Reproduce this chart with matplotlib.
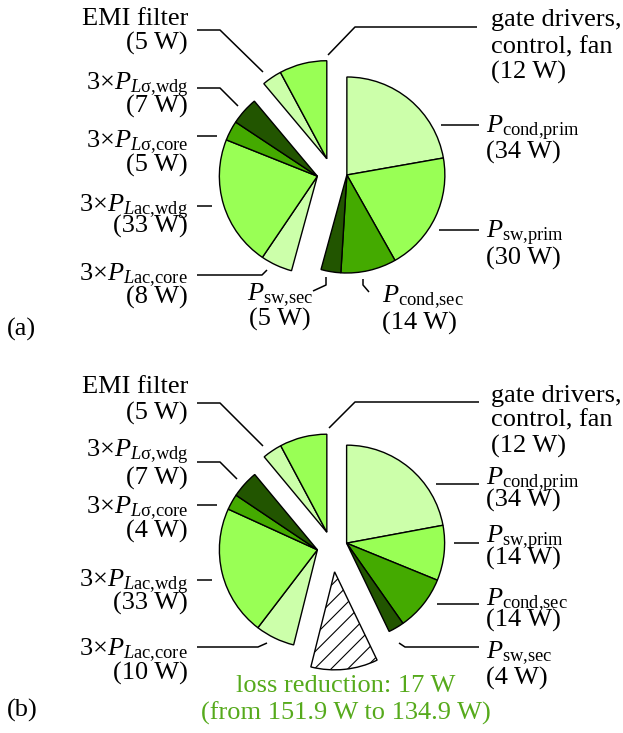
import numpy as np
import matplotlib
matplotlib.use('Agg')
import matplotlib.pyplot as plt

plt.rcParams['font.family'] = 'Liberation Serif'
plt.rcParams['mathtext.fontset'] = 'custom'
plt.rcParams['mathtext.rm'] = 'Liberation Serif'
plt.rcParams['mathtext.it'] = 'Liberation Serif:italic'
plt.rcParams['hatch.linewidth'] = 0.8

W, H = 623, 733  # canvas in px, axes use px units (y down)
R = 98

# losses in W, clockwise from 12 o'clock
loss_a = [34, 30, 14, 5, 8, 33, 5, 7, 5, 12]
group_a = ['semi'] * 4 + ['mag'] * 4 + ['other'] * 2

loss_b = [34, 14, 14, 4, 17, 10, 33, 4, 7, 5, 12]
group_b = ['semi'] * 4 + ['red'] + ['mag'] * 4 + ['other'] * 2

total_before, total_after = 151.9, 134.9

light, bright, mid, dark = '#CCFFAA', '#99FF55', '#44AA00', '#225500'
col_a = [light, bright, mid, dark, light, bright, mid, dark, light, bright]
col_b = [light, bright, mid, dark, 'white', light, bright, mid, dark, light, bright]

shift = {'semi': 0.153, 'mag': 0.153, 'other': 0.155, 'red': 0.26}

names_semi = [r'$P_{\mathrm{cond{,}prim}}$', r'$P_{\mathrm{sw{,}prim}}$',
              r'$P_{\mathrm{cond{,}sec}}$', r'$P_{\mathrm{sw{,}sec}}$']
names_mag = [r'3×$P_{L\mathrm{ac{,}core}}$', r'3×$P_{L\mathrm{ac{,}wdg}}$',
             r'3×$P_{L\mathrm{\sigma{,}core}}$', r'3×$P_{L\mathrm{\sigma{,}wdg}}$']

fig = plt.figure(figsize=(6.23, 7.33), dpi=100)
ax = fig.add_axes([0, 0, 1, 1])


def draw_pie(values, groups, colors, center):
    wedges, _ = ax.pie(values, colors=colors, radius=R, center=center,
                       startangle=-90, counterclock=True, frame=True,
                       wedgeprops=dict(edgecolor='black', linewidth=1.0))
    cum = np.cumsum([0] + values) / sum(values) * 360
    for g in dict.fromkeys(groups):
        idx = [i for i, x in enumerate(groups) if x == g]
        th = np.deg2rad(-90 + (cum[idx[0]] + cum[idx[-1] + 1]) / 2)
        off = shift[g] * R
        for i in idx:
            wedges[i].set_center((center[0] + off * np.cos(th),
                                  center[1] + off * np.sin(th)))
    return wedges


draw_pie(loss_a, group_a, col_a, (332, 173))
wb = draw_pie(loss_b, group_b, col_b, (332, 546.5))
wb[4].set_hatch('//')


def txt(x, y, s, ha='left', color='black'):
    ax.text(x, y, s, ha=ha, va='baseline', fontsize=19, color=color)


def lead(pts):
    xs, ys = zip(*pts)
    ax.plot(xs, ys, color='black', lw=1.1, solid_capstyle='butt')


# ---- (a) ----
txt(188, 25, 'EMI filter', 'right'); txt(188, 50, f'({loss_a[8]} W)', 'right')
txt(188, 90, names_mag[3], 'right'); txt(188, 113, f'({loss_a[7]} W)', 'right')
txt(188, 147, names_mag[2], 'right'); txt(188, 172, f'({loss_a[6]} W)', 'right')
txt(188, 212, names_mag[1], 'right'); txt(188, 233, f'({loss_a[5]} W)', 'right')
txt(188, 280, names_mag[0], 'right'); txt(188, 304, f'({loss_a[4]} W)', 'right')
txt(491, 26, 'gate drivers,'); txt(491, 53, 'control, fan'); txt(491, 79, f'({loss_a[9]} W)')
txt(486, 133, names_semi[0]); txt(486, 159, f'({loss_a[0]} W)')
txt(486, 238, names_semi[1]); txt(486, 265, f'({loss_a[1]} W)')
txt(382, 302, names_semi[2]); txt(382, 330, f'({loss_a[2]} W)')
txt(280, 300, names_semi[3], 'center'); txt(280, 326, f'({loss_a[3]} W)', 'center')
txt(7, 336, '(a)')

lead([(197, 30), (220, 30), (263, 72)])
lead([(477, 27), (355, 27), (328, 55)])
lead([(441, 125), (479, 125)])
lead([(439, 230), (479, 230)])
lead([(363, 279), (363, 285), (369, 292)])
lead([(326, 277), (326, 285), (313, 291)])
lead([(197, 275), (262, 275), (267, 270)])
lead([(197, 206), (212, 206)])
lead([(197, 136), (217, 136)])
lead([(197, 88), (220, 88), (238, 106)])

# ---- (b) ----
txt(188, 393, 'EMI filter', 'right'); txt(188, 420, f'({loss_b[9]} W)', 'right')
txt(188, 457, names_mag[3], 'right'); txt(188, 485, f'({loss_b[8]} W)', 'right')
txt(188, 513, names_mag[2], 'right'); txt(188, 538, f'({loss_b[7]} W)', 'right')
txt(188, 587, names_mag[1], 'right'); txt(188, 610, f'({loss_b[6]} W)', 'right')
txt(188, 655, names_mag[0], 'right'); txt(188, 680, f'({loss_b[5]} W)', 'right')
txt(491, 402, 'gate drivers,'); txt(491, 426, 'control, fan'); txt(491, 453, f'({loss_b[10]} W)')
txt(486, 485, names_semi[0]); txt(486, 507, f'({loss_b[0]} W)')
txt(486, 543, names_semi[1]); txt(486, 565, f'({loss_b[1]} W)')
txt(486, 605, names_semi[2]); txt(486, 627, f'({loss_b[2]} W)')
txt(486, 658, names_semi[3]); txt(486, 685, f'({loss_b[3]} W)')
green = '#56AA1C'
txt(346, 692, f'loss reduction: {loss_b[4]} W', 'center', green)
txt(346, 720, f'(from {total_before} W to {total_after} W)', 'center', green)
txt(7, 717, '(b)')

lead([(197, 403), (220, 403), (263, 446)])
lead([(479, 402), (355, 402), (329, 428)])
lead([(436, 484), (479, 484)])
lead([(454, 543), (479, 543)])
lead([(437, 604), (479, 604)])
lead([(479, 647), (405, 647), (399, 643)])
lead([(197, 647), (258, 647), (267, 643)])
lead([(197, 580), (212, 580)])
lead([(197, 505), (217, 505)])
lead([(197, 462), (220, 462), (237, 479)])

ax.set_xlim(0, W)
ax.set_ylim(H, 0)
ax.set_aspect('auto')
ax.axis('off')
fig.savefig('out.png', dpi=100)
